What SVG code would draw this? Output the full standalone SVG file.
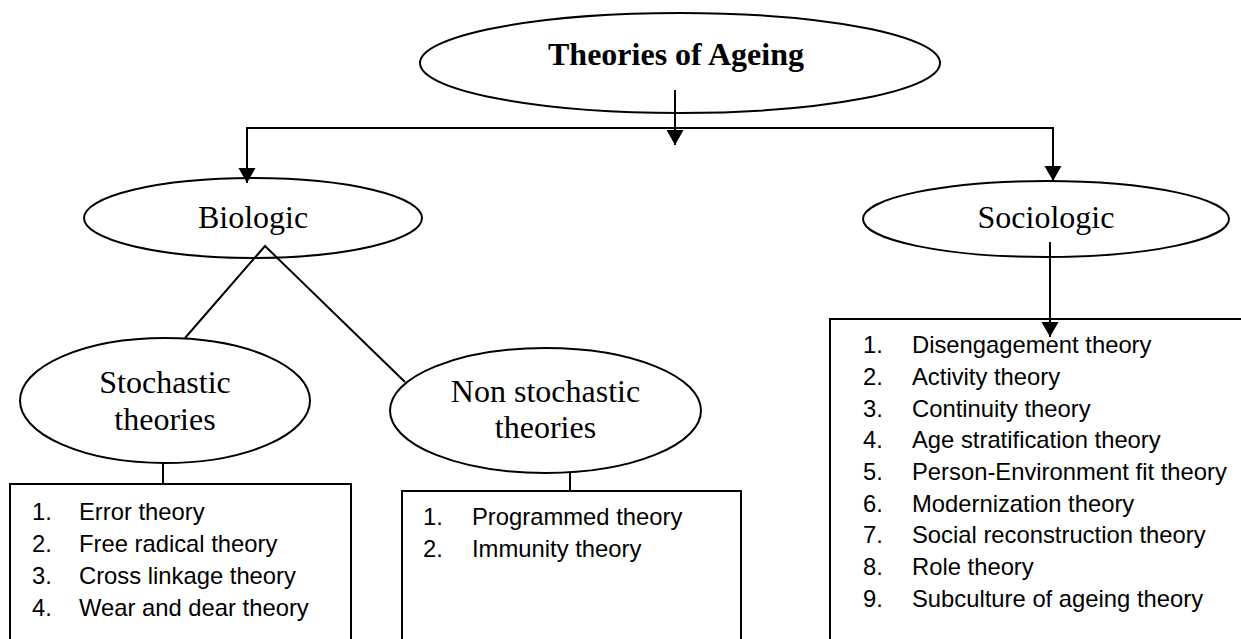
<svg xmlns="http://www.w3.org/2000/svg" width="1241" height="639" viewBox="0 0 1241 639">
<style>
.ell{fill:#fff;stroke:#000;stroke-width:2}
.box{fill:#fff;stroke:#000;stroke-width:2}
.ln{fill:none;stroke:#000;stroke-width:2}
.t{font-family:"Liberation Serif","Times New Roman",serif;font-size:32px;fill:#000;text-anchor:middle}
.tb{font-weight:bold}
.li{font-family:"Liberation Sans",Arial,sans-serif;font-size:23.8px;fill:#000}
</style>
<defs>
<marker id="ah" markerUnits="userSpaceOnUse" markerWidth="16" markerHeight="18" refX="15" refY="8.5" orient="auto">
<path d="M0,0 L15,8.5 L0,17 z" fill="#000"/>
</marker>
</defs>
<rect width="1241" height="639" fill="#fff"/>
<g id="root">
<ellipse class="ell" cx="680" cy="63" rx="260" ry="50"/>
<text class="t tb" x="676" y="65">Theories of Ageing</text>
</g>
<g id="biologic">
<ellipse class="ell" cx="253" cy="218" rx="169" ry="40"/>
<text class="t" x="253" y="228">Biologic</text>
</g>
<g id="sociologic">
<ellipse class="ell" cx="1046" cy="219" rx="183" ry="38"/>
<text class="t" x="1046" y="228">Sociologic</text>
</g>
<g id="stochastic">
<ellipse class="ell" cx="165" cy="400.5" rx="145" ry="62.5"/>
<text class="t" x="165" y="393">Stochastic</text>
<text class="t" x="165" y="430">theories</text>
</g>
<g id="nonstochastic">
<ellipse class="ell" cx="545.5" cy="410.5" rx="155.5" ry="62.5"/>
<text class="t" x="545.5" y="402">Non stochastic</text>
<text class="t" x="545.5" y="438">theories</text>
</g>
<g id="stochastic-list">
<rect class="box" x="10" y="484" width="341" height="170"/>
<text class="li" x="32" y="520">1.</text><text class="li" x="79" y="520">Error theory</text>
<text class="li" x="32" y="552">2.</text><text class="li" x="79" y="552">Free radical theory</text>
<text class="li" x="32" y="584">3.</text><text class="li" x="79" y="584">Cross linkage theory</text>
<text class="li" x="32" y="616">4.</text><text class="li" x="79" y="616">Wear and dear theory</text>
</g>
<g id="nonstochastic-list">
<rect class="box" x="402" y="491" width="339" height="170"/>
<text class="li" x="423" y="525">1.</text><text class="li" x="472" y="525">Programmed theory</text>
<text class="li" x="423" y="557">2.</text><text class="li" x="472" y="557">Immunity theory</text>
</g>
<g id="sociologic-list">
<rect class="box" x="830" y="319" width="440" height="340"/>
<text class="li" x="863" y="353">1.</text><text class="li" x="912" y="353">Disengagement theory</text>
<text class="li" x="863" y="385">2.</text><text class="li" x="912" y="385">Activity theory</text>
<text class="li" x="863" y="417">3.</text><text class="li" x="912" y="417">Continuity theory</text>
<text class="li" x="863" y="448">4.</text><text class="li" x="912" y="448">Age stratification theory</text>
<text class="li" x="863" y="480">5.</text><text class="li" x="912" y="480">Person-Environment fit theory</text>
<text class="li" x="863" y="512">6.</text><text class="li" x="912" y="512">Modernization theory</text>
<text class="li" x="863" y="543">7.</text><text class="li" x="912" y="543">Social reconstruction theory</text>
<text class="li" x="863" y="575">8.</text><text class="li" x="912" y="575">Role theory</text>
<text class="li" x="863" y="607">9.</text><text class="li" x="912" y="607">Subculture of ageing theory</text>
</g>
<g id="connectors">
<line class="ln" x1="675" y1="90" x2="675" y2="145" marker-end="url(#ah)"/>
<polyline class="ln" points="247,160 247,128 1053,128 1053,160"/>
<line class="ln" x1="247" y1="150" x2="247" y2="183" marker-end="url(#ah)"/>
<line class="ln" x1="1053" y1="150" x2="1053" y2="181" marker-end="url(#ah)"/>
<polyline class="ln" points="185,338 265,246 405,382"/>
<line class="ln" x1="1050" y1="242" x2="1050" y2="337" marker-end="url(#ah)"/>
<line class="ln" x1="163" y1="463" x2="163" y2="484"/>
<line class="ln" x1="570" y1="473" x2="570" y2="491"/>
</g>
</svg>
